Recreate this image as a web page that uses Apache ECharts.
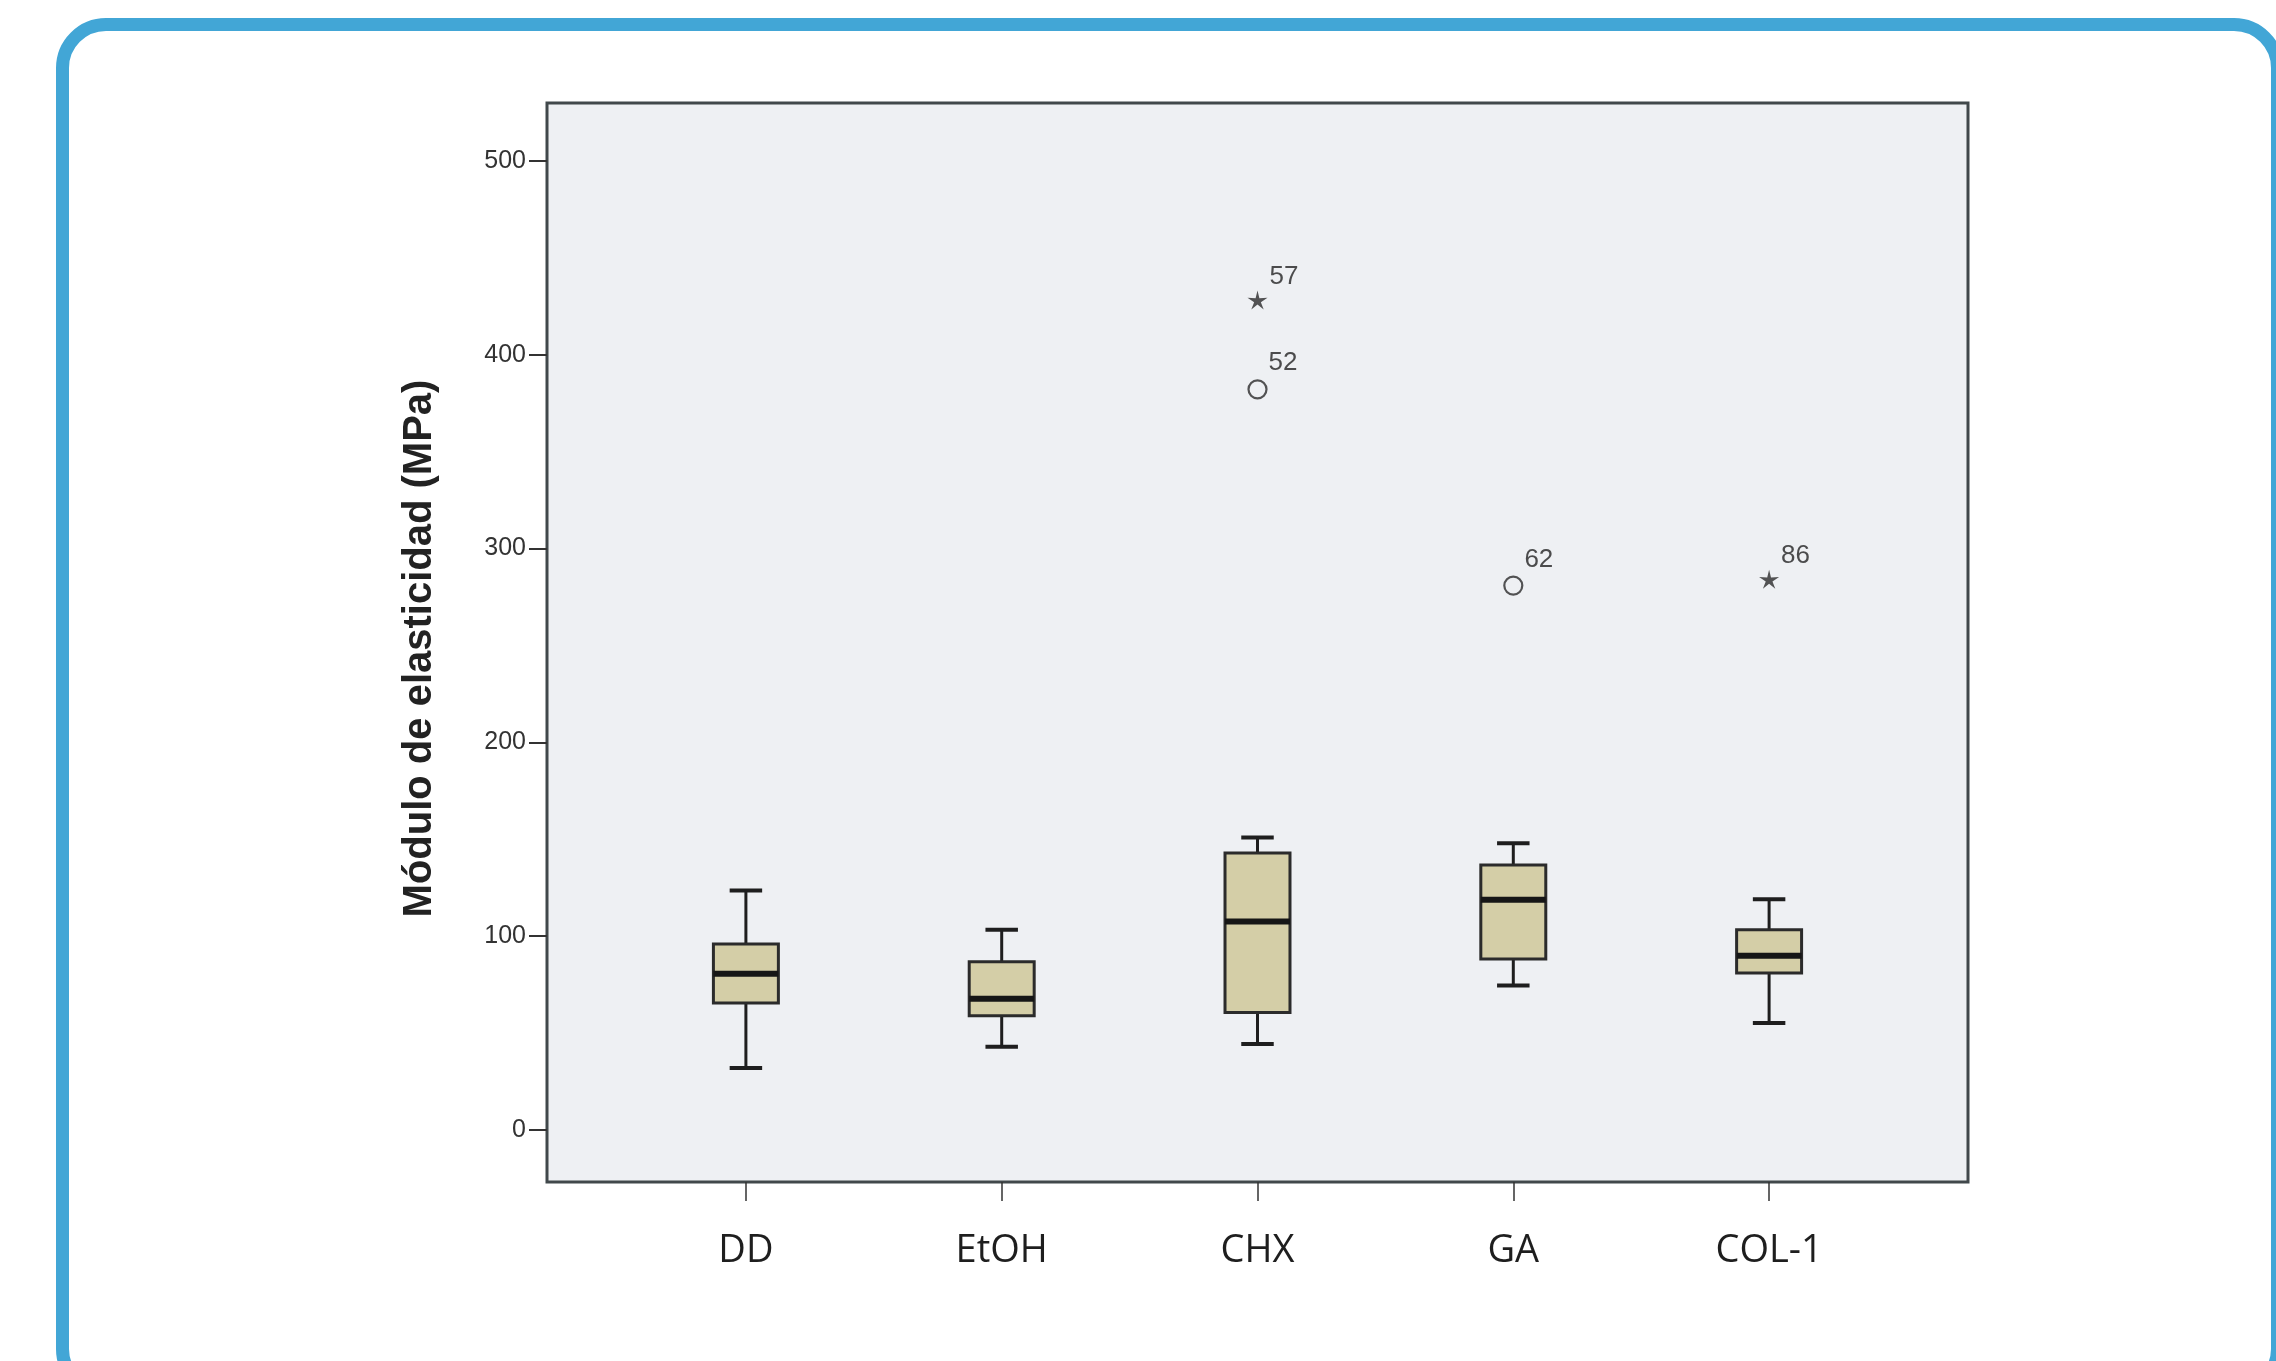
<!DOCTYPE html>
<html>
<head>
<meta charset="utf-8">
<title>Módulo de elasticidad</title>
<script src="https://cdn.jsdelivr.net/npm/echarts@6.0.0/dist/echarts.min.js"></script>
<style>
	html, body { margin: 0; padding: 0; background: #fff; overflow: hidden; }
	#frame {
		position: absolute; left: 56px; top: 18px;
		width: 2228px; height: 1381px;
		border: 13px solid #42a6d6;
		border-radius: 50px;
		box-sizing: border-box;
	}
	#boxChart { position: absolute; left: 0; top: 0; width: 2276px; height: 1361px; }
</style>
</head>
<body>
<div id="frame"></div>
<div id="boxChart"></div>
<script>
// grupos
var categories = ['DD', 'EtOH', 'CHX', 'GA', 'COL-1'];

// bigotes, cuartiles y mediana (MPa)
var whiskerLow  = [31.8, 42.8, 44.2, 74.5, 55.1];
var q1          = [65.4, 58.8, 60.5, 88.1, 80.9];
var median      = [80.5, 67.6, 107.5, 118.7, 89.8];
var q3          = [95.8, 86.7, 142.8, 136.7, 103.2];
var whiskerHigh = [123.5, 103.2, 150.8, 147.9, 119.0];

// casos atipicos (o) y extremos (*)
var outlierCat  = [2, 2, 3, 4];
var outlierVal  = [428.3, 382.2, 280.9, 284.2];
var outlierId   = ['57', '52', '62', '86'];
var outlierKind = ['extreme', 'outlier', 'outlier', 'extreme'];

var yTicks = [0, 100, 200, 300, 400, 500];

(function() {

	var starPath = 'path://M50 0 L59 37 L97.55 34.55 L66 56 L79.39 90.45 L50 67 L20.61 90.45 L34 56 L2.45 34.55 L41 37 Z';

	var boxData = [];
	for (var i = 0; i < categories.length; i++) {
		boxData.push([i, whiskerLow[i], q1[i], median[i], q3[i], whiskerHigh[i]]);
	}

	var outlierData = [];
	for (var j = 0; j < outlierVal.length; j++) {
		var isExtreme = outlierKind[j] === 'extreme';
		outlierData.push({
			name: outlierId[j],
			value: [outlierCat[j], outlierVal[j]],
			symbol: isExtreme ? starPath : 'circle',
			symbolSize: isExtreme ? 20 : 18,
			itemStyle: isExtreme
				? { color: '#2a2a2a', borderWidth: 0 }
				: { color: 'rgba(0,0,0,0)', borderColor: '#2a2a2a', borderWidth: 2.2 },
			label: isExtreme
				? { distance: 2, offset: [0, -23] }
				: { distance: 1, offset: [0, -26] }
		});
	}

	var renderBox = function(params, api) {
		var x = api.value(0);
		var pLow  = api.coord([x, api.value(1)]);
		var pQ1   = api.coord([x, api.value(2)]);
		var pMed  = api.coord([x, api.value(3)]);
		var pQ3   = api.coord([x, api.value(4)]);
		var pHigh = api.coord([x, api.value(5)]);
		var band = api.size([1, 0])[0];
		var half = band * 0.127;
		var cap = half * 0.5;
		var cx = pMed[0];
		var stem = { stroke: '#1e1e1e', lineWidth: 3 };
		var capStyle = { stroke: '#1e1e1e', lineWidth: 4 };
		return {
			type: 'group',
			children: [
				{ type: 'line', shape: { x1: cx, y1: pHigh[1], x2: cx, y2: pQ3[1] }, style: stem },
				{ type: 'line', shape: { x1: cx, y1: pQ1[1], x2: cx, y2: pLow[1] }, style: stem },
				{ type: 'line', shape: { x1: cx - cap, y1: pHigh[1], x2: cx + cap, y2: pHigh[1] }, style: capStyle },
				{ type: 'line', shape: { x1: cx - cap, y1: pLow[1], x2: cx + cap, y2: pLow[1] }, style: capStyle },
				{
					type: 'rect',
					shape: { x: cx - half, y: pQ3[1], width: half * 2, height: pQ1[1] - pQ3[1] },
					style: { fill: '#d4cea7', stroke: '#2b2b2b', lineWidth: 3 }
				},
				{ type: 'line', shape: { x1: cx - half, y1: pMed[1], x2: cx + half, y2: pMed[1] }, style: { stroke: '#161616', lineWidth: 6 } }
			]
		};
	};

	var option = {
		backgroundColor: 'transparent',
		animation: false,
		grid: [
			// area de datos (categorias con margen interior)
			{ left: 618, right: 379, top: 103, bottom: 179 },
			// marco gris del grafico
			{
				left: 547, right: 308, top: 103, bottom: 179,
				show: true, backgroundColor: '#eef0f3',
				borderColor: '#41484b', borderWidth: 3, z: 0
			}
		],
		xAxis: [
			{
				type: 'category',
				gridIndex: 0,
				data: categories,
				axisLine: { show: false, onZero: false },
				axisTick: { show: true, alignWithLabel: true, length: 19, lineStyle: { color: '#333', width: 1.5 } },
				axisLabel: { margin: 50, fontFamily: 'Open Sans', fontSize: 38, color: '#1e1e1e' },
				splitLine: { show: false }
			},
			{ type: 'value', gridIndex: 1, show: false }
		],
		yAxis: [
			{
				type: 'value',
				gridIndex: 0,
				min: -27,
				max: 530,
				offset: 71,
				name: 'Módulo de elasticidad (MPa)',
				nameLocation: 'middle',
				nameGap: 107,
				nameTextStyle: { fontFamily: 'Liberation Sans', fontSize: 40, fontWeight: 'bold', color: '#222', padding: [0, 12, 0, 0] },
				axisLine: { show: false },
				axisTick: { show: true, length: 18, customValues: yTicks, lineStyle: { color: '#333', width: 2 } },
				axisLabel: { margin: 21, customValues: yTicks, fontFamily: 'Liberation Sans', fontSize: 25, color: '#333' },
				splitLine: { show: false }
			},
			{ type: 'value', gridIndex: 1, show: false }
		],
		series: [
			{
				name: 'caja',
				type: 'custom',
				xAxisIndex: 0,
				yAxisIndex: 0,
				renderItem: renderBox,
				encode: { x: 0, y: [1, 2, 3, 4, 5] },
				data: boxData,
				z: 3
			},
			{
				name: 'atipicos',
				type: 'scatter',
				xAxisIndex: 0,
				yAxisIndex: 0,
				symbolKeepAspect: true,
				label: {
					show: true,
					position: 'right',
					formatter: '{b}',
					fontFamily: 'Liberation Sans',
					fontSize: 26,
					color: '#222'
				},
				data: outlierData,
				z: 4
			}
		]
	};

	var chart = echarts.init(document.getElementById('boxChart'));
	chart.setOption(option);

})();
</script>
</body>
</html>
